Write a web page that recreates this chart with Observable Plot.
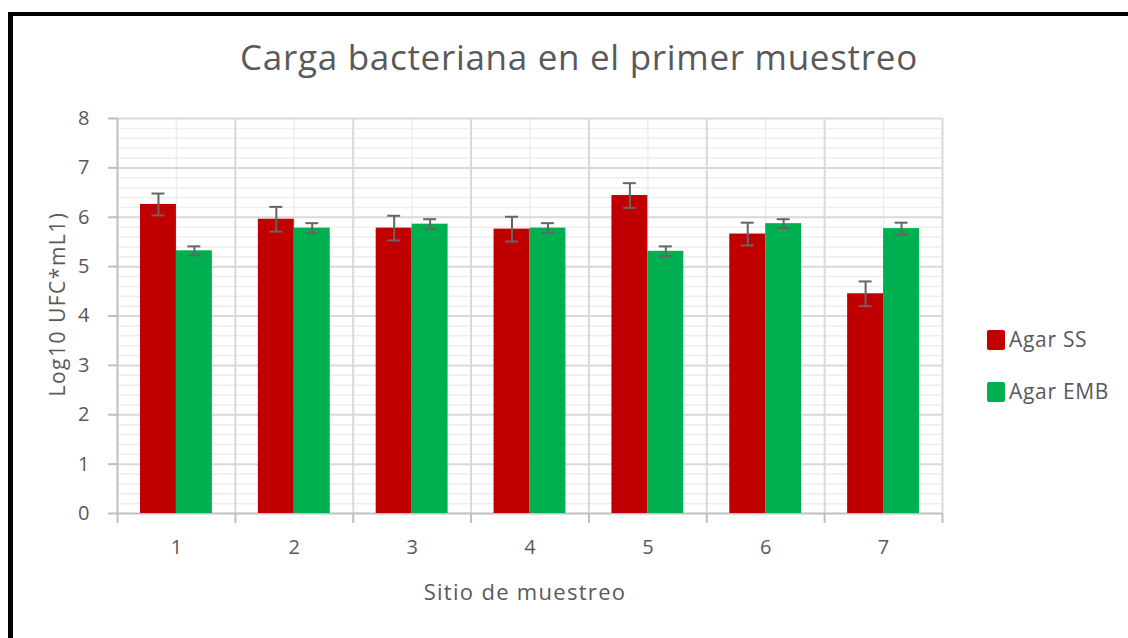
<!DOCTYPE html>
<html><head><meta charset="utf-8">
<script src="https://cdn.jsdelivr.net/npm/d3@7"></script>
<script src="https://cdn.jsdelivr.net/npm/@observablehq/plot@0.6"></script>
<style>
body{margin:0;background:#fff;font-family:"Open Sans",sans-serif;}
#wrap{position:relative;width:1128px;height:638px;overflow:hidden;background:#fff;}
#chart{position:absolute;left:0;top:0;}
#frame{position:absolute;left:8px;top:12px;width:1200px;height:700px;border-top:4px solid #000;border-left:5px solid #000;box-sizing:border-box;}
.txt{position:absolute;color:#595959;white-space:nowrap;line-height:1;}
#title{left:0;width:1158px;top:39px;text-align:center;font-size:35px;letter-spacing:0.7px;}
#ylab{left:57px;top:304px;font-size:21px;letter-spacing:1.5px;transform:translate(-50%,-50%) rotate(-90deg);}
#xlab{left:0;width:1050px;top:580px;text-align:center;font-size:22px;letter-spacing:1.3px;}
.leg{position:absolute;left:987px;font-size:21px;letter-spacing:0.7px;color:#595959;display:flex;align-items:center;line-height:1;}
.sw{width:18px;height:20px;margin-right:4px;border-radius:2px;}
</style>
</head><body>
<div id="wrap">
  <div id="chart"></div>
  <div id="frame"></div>
  <div id="title" class="txt">Carga bacteriana en el primer muestreo</div>
  <div id="ylab" class="txt">Log10 UFC*mL1)</div>
  <div id="xlab" class="txt">Sitio de muestreo</div>
  <div id="legend"></div>
</div>
<script>
const sites = [1, 2, 3, 4, 5, 6, 7];
const seriesNames = ["Agar SS", "Agar EMB"];
const seriesColors = ["#C00000", "#00B050"];
const agarSS = [6.26, 5.96, 5.78, 5.76, 6.44, 5.66, 4.45];
const agarSSErr = [0.22, 0.25, 0.25, 0.25, 0.25, 0.23, 0.25];
const agarEMB = [5.32, 5.78, 5.86, 5.78, 5.31, 5.87, 5.77];
const agarEMBErr = [0.09, 0.1, 0.1, 0.1, 0.1, 0.09, 0.12];
const yTicks = [0, 1, 2, 3, 4, 5, 6, 7, 8];

const BW = 0.305; // bar width in category units
const data = [];
sites.forEach((s, i) => {
  data.push({site: s, series: seriesNames[0], value: agarSS[i], err: agarSSErr[i], side: -1});
  data.push({site: s, series: seriesNames[1], value: agarEMB[i], err: agarEMBErr[i], side: 1});
});
const x1 = d => d.side < 0 ? d.site - BW : d.site;
const x2 = d => d.side < 0 ? d.site : d.site + BW;
const xc = d => d.site + d.side * BW / 2;
const boundaries = [0.5, 1.5, 2.5, 3.5, 4.5, 5.5, 6.5, 7.5];
const minorY = d3.range(1, 40).map(k => k / 5).filter(v => Math.abs(v - Math.round(v)) > 1e-6);

const chart = Plot.plot({
  width: 1128,
  height: 638,
  marginLeft: 117,
  marginRight: 186,
  marginTop: 118,
  marginBottom: 125,
  style: {fontFamily: '"Open Sans", sans-serif', color: "#595959", background: "transparent"},
  x: {type: "linear", domain: [0.5, 7.5]},
  y: {domain: [0, 8]},
  color: {domain: seriesNames, range: seriesColors},
  marks: [
    Plot.ruleY(minorY, {stroke: "#ededed", strokeWidth: 1.5}),
    Plot.ruleX(sites, {stroke: "#ededed", strokeWidth: 1.5}),
    Plot.ruleY(yTicks.slice(1), {stroke: "#d9d9d9", strokeWidth: 2}),
    Plot.ruleX(boundaries.slice(1), {stroke: "#d9d9d9", strokeWidth: 2}),
    Plot.ruleX([0.5], {stroke: "#bfbfbf", strokeWidth: 2}),
    Plot.ruleY([0], {stroke: "#bfbfbf", strokeWidth: 2}),
    Plot.axisY({ticks: yTicks, tickSize: 9, tickPadding: 19, stroke: "#bfbfbf", strokeWidth: 2, fontSize: 20, label: null}),
    Plot.axisX({ticks: boundaries, tickSize: 10, tickFormat: () => "", stroke: "#bfbfbf", strokeWidth: 2, label: null}),
    Plot.axisX({ticks: sites, tickSize: 0, tickPadding: 26, fontSize: 20, tickFormat: d3.format("d"), label: null}),
    Plot.rectY(data, {x1, x2, y: "value", fill: "series"}),
    Plot.ruleX(data, {x: xc, y1: d => d.value - d.err, y2: d => d.value + d.err, stroke: "#656565", strokeWidth: 2}),
    Plot.ruleY(data, {y: d => d.value - d.err, x1: d => xc(d) - 0.055, x2: d => xc(d) + 0.055, stroke: "#656565", strokeWidth: 2}),
    Plot.ruleY(data, {y: d => d.value + d.err, x1: d => xc(d) - 0.055, x2: d => xc(d) + 0.055, stroke: "#656565", strokeWidth: 2})
  ]
});
document.getElementById("chart").appendChild(chart);

const legend = document.getElementById("legend");
const legTops = [329, 381];
seriesNames.forEach((n, i) => {
  const row = document.createElement("div");
  row.className = "leg";
  row.style.top = legTops[i] + "px";
  const sw = document.createElement("div");
  sw.className = "sw";
  sw.style.background = seriesColors[i];
  const t = document.createElement("span");
  t.textContent = n;
  row.appendChild(sw);
  row.appendChild(t);
  legend.appendChild(row);
});
</script>
</body></html>
